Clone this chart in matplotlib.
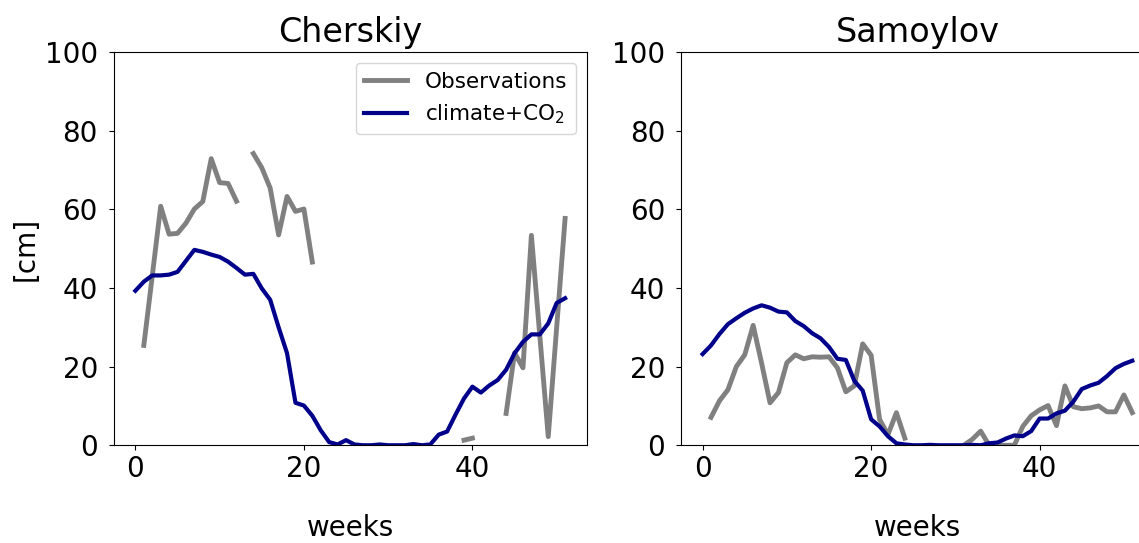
"""Weekly active-layer depth at two permafrost sites: observations vs model."""

import matplotlib

matplotlib.use("Agg")

import matplotlib.pyplot as plt
import numpy as np

nan = np.nan

weeks = np.arange(52)

cherskiy_obs = [
    nan, 25.4, 43.0, 60.8, 53.7, 53.9, 56.5, 60.1, 62.0, 72.9,
    66.8, 66.6, 62.1, nan, 74.2, 70.6, 65.4, 53.5, 63.3, 59.5,
    60.1, 46.6, nan, nan, nan, nan, nan, nan, nan, nan,
    nan, nan, nan, nan, nan, nan, nan, nan, nan, 1.3,
    1.8, nan, nan, nan, 8.1, 23.5, 19.7, 53.4, 27.8, 2.2,
    30.0, 57.7,
]
cherskiy_model = [
    39.3, 41.6, 43.2, 43.2, 43.4, 44.1, 46.9, 49.7, 49.2, 48.5,
    47.9, 46.7, 45.1, 43.4, 43.6, 39.9, 37.0, 30.0, 23.4, 10.8,
    10.1, 7.5, 3.8, 0.8, 0.2, 1.3, 0.2, 0.0, 0.0, 0.2,
    0.0, 0.0, 0.0, 0.3, 0.0, 0.2, 2.7, 3.5, 7.8, 11.9,
    14.9, 13.4, 15.2, 16.6, 19.2, 23.4, 26.3, 28.2, 28.2, 31.0,
    36.2, 37.4,
]

samoylov_obs = [
    nan, 7.1, 11.3, 14.1, 20.0, 23.0, 30.5, 20.9, 10.8, 13.4,
    21.0, 23.0, 22.0, 22.5, 22.4, 22.5, 19.7, 13.6, 15.1, 25.8,
    22.9, 6.6, 2.7, 8.3, 1.8, nan, nan, nan, nan, nan,
    nan, 0.0, 1.5, 3.6, 0.0, 0.0, 0.0, 0.0, 4.8, 7.5,
    9.0, 10.1, 5.0, 15.1, 9.8, 9.3, 9.5, 10.0, 8.5, 8.5,
    12.8, 8.3,
]
samoylov_model = [
    23.2, 25.4, 28.3, 30.8, 32.3, 33.7, 34.8, 35.6, 35.0, 34.0,
    33.8, 31.6, 30.3, 28.5, 27.2, 25.0, 22.0, 21.7, 16.4, 13.9,
    6.6, 4.8, 2.3, 0.5, 0.2, 0.0, 0.0, 0.1, 0.0, 0.0,
    0.0, 0.0, 0.1, 0.0, 0.5, 0.7, 1.7, 2.5, 2.3, 3.6,
    6.8, 6.8, 8.1, 8.8, 11.1, 14.3, 15.2, 15.9, 17.6, 19.6,
    20.7, 21.5,
]

sites = ["Cherskiy", "Samoylov"]
obs = [cherskiy_obs, samoylov_obs]
model = [cherskiy_model, samoylov_model]

plt.rcParams["font.size"] = 20
plt.rcParams["ytick.major.pad"] = 8

fig = plt.figure(figsize=(11.39, 5.43), dpi=100)
axes = [
    fig.add_axes([0.100, 0.180, 0.415, 0.724]),
    fig.add_axes([0.598, 0.180, 0.415, 0.724]),
]

for i, ax in enumerate(axes):
    ax.plot(weeks, obs[i], color="grey", lw=3.5, label="Observations")
    ax.plot(weeks, model[i], color="darkblue", lw=3, label="climate+CO$_2$")
    ax.set_ylim(0, 100)
    ax.set_xticks([0, 20, 40])
    ax.set_title(sites[i], pad=7)
    ax.set_xlabel("weeks", labelpad=22)

axes[0].set_ylabel("[cm]")
axes[0].legend(loc="upper right", fontsize=15.5)

fig.savefig("out.png", dpi=100)
plt.close(fig)
